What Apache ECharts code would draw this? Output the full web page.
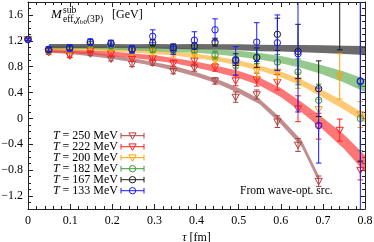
<!DOCTYPE html>
<html><head><meta charset="utf-8">
<script src="https://cdn.jsdelivr.net/npm/echarts@6/dist/echarts.min.js"></script>
<style>html,body{margin:0;padding:0;background:#fff}#c{width:374px;height:242px}</style>
</head><body><div id="c"></div>
<script>
// ---- data ----
const tau = [0, 0.049, 0.099, 0.148, 0.197, 0.247, 0.296, 0.345, 0.395, 0.444, 0.493, 0.543, 0.592, 0.641, 0.690, 0.740, 0.789];

const m250 = [1.22, 1.02, 0.97, 1.00, 0.92, 0.84, 0.86, 0.73, 0.78, 0.58, 0.33, 0.37, -0.05, -0.41, -0.97];
const e250 = [0.02, 0.03, 0.03, 0.03, 0.03, 0.04, 0.04, 0.04, 0.05, 0.05, 0.08, 0.07, 0.09, 0.10, 0.08];
const m222 = [1.22, 1.03, 0.975, 1.05, 1.00, 0.92, 0.93, 0.85, 0.89, 0.79, 0.585, 0.60, 0.56, 0.15, -0.12, -0.18, -0.80];
const e222 = [0.02, 0.03, 0.03, 0.03, 0.04, 0.04, 0.04, 0.05, 0.05, 0.06, 0.08, 0.10, 0.12, 0.20, 0.20, 0.17, 0.15];
const m200 = [1.22, 1.04, 1.04, 1.12, 1.08, 1.02, 1.02, 1.00, 0.99, 0.90, 0.78, 0.74, 0.72, 0.585, 0.14, 0.65, 0.06];
const e200 = [0.02, 0.03, 0.03, 0.03, 0.04, 0.04, 0.05, 0.05, 0.05, 0.06, 0.08, 0.10, 0.12, 0.12, 0.15, 0.35, 0.20];
const m182 = [1.22, 1.05, 1.07, 1.15, 1.12, 1.06, 1.07, 1.06, 1.06, 0.98, 0.86, 0.95, 0.87, 0.72, 0.28, null, 0.00];
const e182 = [0.02, 0.03, 0.03, 0.04, 0.04, 0.05, 0.05, 0.05, 0.05, 0.06, 0.08, 0.10, 0.12, 0.20, 0.25, null, 0.50];
const m167 = [1.22, 1.06, 1.09, 1.18, 1.16, 1.07, 1.17, 1.10, 1.12, 1.18, 0.91, 0.94, 1.30, 1.035, 0.46, 1.90, 0.58];
const e167 = [0.02, 0.03, 0.03, 0.04, 0.04, 0.04, 0.05, 0.05, 0.05, 0.06, 0.09, 0.15, 0.25, 0.42, 0.43, 0.84, 1.25];
const m133 = [1.22, 1.07, 1.09, 1.18, 1.16, 1.07, 1.27, 1.07, 1.21, 1.37, 0.89, 1.18, 1.17, 1.00, -0.11, null, 0.57];
const e133 = [0.02, 0.04, 0.05, 0.05, 0.05, 0.06, 0.10, 0.08, 0.13, 0.17, 0.22, 0.30, 0.43, 0.90, 0.58, null, 2.00];

// fit bands: centre and half-width
const bandTau = [0.05, 0.1, 0.15, 0.2, 0.25, 0.3, 0.35, 0.4, 0.45, 0.5, 0.55, 0.6, 0.65, 0.7, 0.75, 0.8];
const bandTau250 = [0.05, 0.1, 0.15, 0.2, 0.25, 0.3, 0.35, 0.4, 0.45, 0.5, 0.55, 0.6, 0.65, 0.69];
const c250 = [1.04, 1.02, 0.99, 0.95, 0.90, 0.84, 0.77, 0.68, 0.57, 0.43, 0.26, -0.04, -0.39, -0.93];
const w250 = [0.025, 0.025, 0.03, 0.03, 0.03, 0.03, 0.035, 0.035, 0.035, 0.04, 0.04, 0.045, 0.05, 0.05];
const c222 = [1.05, 1.04, 1.02, 1.00, 0.97, 0.935, 0.89, 0.83, 0.76, 0.68, 0.57, 0.40, 0.17, -0.08, -0.36, -0.70];
const w222 = [0.03, 0.03, 0.03, 0.035, 0.035, 0.04, 0.04, 0.045, 0.05, 0.055, 0.06, 0.07, 0.08, 0.09, 0.11, 0.13];
const c200 = [1.08, 1.075, 1.07, 1.06, 1.045, 1.025, 1.00, 0.965, 0.92, 0.86, 0.78, 0.68, 0.55, 0.38, 0.20, 0.00];
const w200 = [0.025, 0.025, 0.025, 0.025, 0.03, 0.03, 0.03, 0.035, 0.035, 0.04, 0.04, 0.045, 0.05, 0.055, 0.06, 0.065];
const c182 = [1.10, 1.10, 1.095, 1.09, 1.08, 1.07, 1.06, 1.05, 1.03, 1.00, 0.96, 0.91, 0.84, 0.75, 0.64, 0.51];
const w182 = [0.025, 0.025, 0.025, 0.03, 0.03, 0.03, 0.035, 0.035, 0.04, 0.045, 0.05, 0.055, 0.06, 0.07, 0.085, 0.10];
const c167 = [1.12, 1.12, 1.12, 1.12, 1.115, 1.115, 1.11, 1.11, 1.105, 1.10, 1.09, 1.085, 1.08, 1.07, 1.06, 1.05];
const w167 = [0.03, 0.03, 0.03, 0.03, 0.03, 0.035, 0.035, 0.04, 0.04, 0.045, 0.05, 0.05, 0.055, 0.06, 0.065, 0.07];

const xTicks = [0, 0.1, 0.2, 0.3, 0.4, 0.5, 0.6, 0.7, 0.8];
const yTicks = [-1.2, -0.8, -0.4, 0, 0.4, 0.8, 1.2, 1.6];
const yMinorTicks = [-1.4, -1.3, -1.1, -1.0, -0.9, -0.7, -0.6, -0.5, -0.3, -0.2, -0.1, 0.1, 0.2, 0.3, 0.5, 0.6, 0.7, 0.9, 1.0, 1.1, 1.3, 1.4, 1.5, 1.7, 1.8];
const legendLabels = ['250', '222', '200', '182', '167', '133'];

// ---- styles ----
const FONT = 'Liberation Serif';
const sets = [
  {m: m250, e: e250, color: '#b04040', shape: 'tri'},
  {m: m222, e: e222, color: '#ff2020', shape: 'tri'},
  {m: m200, e: e200, color: '#ffa000', shape: 'tri'},
  {m: m182, e: e182, color: '#3a9a3a', shape: 'circ'},
  {m: m167, e: e167, color: '#1a1a1a', shape: 'circ'},
  {m: m133, e: e133, color: '#1a1aff', shape: 'circ'}
];
const bands = [
  {x: bandTau250, c: c250, w: w250, fill: 'rgba(160,80,80,0.65)'},
  {x: bandTau, c: c222, w: w222, fill: 'rgba(255,60,60,0.7)'},
  {x: bandTau, c: c200, w: w200, fill: 'rgba(255,180,60,0.7)'},
  {x: bandTau, c: c182, w: w182, fill: 'rgba(90,170,80,0.65)'},
  {x: bandTau, c: c167, w: w167, fill: 'rgba(70,70,70,0.8)'}
];

function markerShape(shape, cx, cy, color) {
  if (shape === 'tri') {
    return {type: 'polygon', shape: {points: [[cx - 3.6, cy - 2.8], [cx + 3.6, cy - 2.8], [cx, cy + 3.6]]},
      style: {fill: 'rgba(255,255,255,0)', stroke: color, lineWidth: 1}};
  }
  return {type: 'circle', shape: {cx: cx, cy: cy, r: 3.2}, style: {fill: 'rgba(255,255,255,0)', stroke: color, lineWidth: 1}};
}

function errSeries(s) {
  const data = [];
  s.m.forEach((v, i) => { if (v !== null) data.push([tau[i], v, s.e[i]]); });
  return {
    type: 'custom', coordinateSystem: 'cartesian2d', silent: true, z: 5,
    data: data,
    renderItem: function (params, api) {
      const x = api.value(0), y = api.value(1), e = api.value(2);
      const p = api.coord([x, y]);
      const t = api.coord([x, y + e]);
      const b = api.coord([x, y - e]);
      const cw = 2.8;
      const cs = params.coordSys;
      return {
        type: 'group',
        clipPath: {type: 'rect', shape: {x: cs.x - 10, y: cs.y, width: cs.width + 20, height: cs.height}},
        children: [
          {type: 'line', shape: {x1: p[0], y1: t[1], x2: p[0], y2: b[1]}, style: {stroke: s.color, lineWidth: 1}},
          {type: 'line', shape: {x1: p[0] - cw, y1: t[1], x2: p[0] + cw, y2: t[1]}, style: {stroke: s.color, lineWidth: 1}},
          {type: 'line', shape: {x1: p[0] - cw, y1: b[1], x2: p[0] + cw, y2: b[1]}, style: {stroke: s.color, lineWidth: 1}},
          markerShape(s.shape, p[0], p[1], s.color)
        ]
      };
    }
  };
}

function bandSeries(bd) {
  return {
    type: 'custom', coordinateSystem: 'cartesian2d', silent: true, z: 2, clip: true,
    data: bd.x.map((x, i) => [x, bd.c[i] - bd.w[i], bd.c[i] + bd.w[i]]),
    renderItem: function (params, api) {
      if (params.dataIndex !== 0) return;
      const up = [], dn = [];
      for (let i = 0; i < bd.x.length; i++) {
        up.push(api.coord([bd.x[i], bd.c[i] + bd.w[i]]));
        dn.push(api.coord([bd.x[i], bd.c[i] - bd.w[i]]));
      }
      const cs = params.coordSys;
      return {type: 'polygon', shape: {points: up.concat(dn.reverse())}, style: {fill: bd.fill},
        clipPath: {type: 'rect', shape: {x: cs.x, y: cs.y, width: cs.width, height: cs.height}}};
    }
  };
}

const fmt = v => (Math.abs(v) < 1e-9 ? '0' : (Math.round(v * 10) / 10).toString()).replace('-', '\u2212');

function xAxisCfg(pos, labels) {
  return {
    type: 'value', position: pos, min: xTicks[0], max: xTicks[xTicks.length - 1], interval: 0.1,
    axisLine: {show: true, onZero: false, lineStyle: {color: '#222', width: 1}},
    axisTick: {show: true, inside: true, length: 5, lineStyle: {color: '#222'}},
    minorTick: {show: true, splitNumber: 5, length: 3, lineStyle: {color: '#222'}},
    splitLine: {show: false}, minorSplitLine: {show: false},
    axisLabel: {show: labels, fontFamily: FONT, fontSize: 12, color: '#000', margin: 6, formatter: fmt},
    name: labels ? '{i|τ} [fm]' : '', nameLocation: 'middle', nameGap: 22,
    nameTextStyle: {fontFamily: FONT, fontSize: 12, color: '#000', rich: {i: {fontFamily: FONT, fontStyle: 'italic', fontSize: 12}}}
  };
}
function yAxisCfg(pos, labels, major) {
  return {
    type: 'value', position: pos, min: -1.4, max: 1.8, interval: 0.1,
    axisLine: {show: major, onZero: false, lineStyle: {color: '#222', width: 1}},
    axisTick: {show: true, inside: true, length: major ? 5 : 3, lineStyle: {color: '#222'},
      customValues: major ? yTicks : yMinorTicks},
    splitLine: {show: false},
    axisLabel: {show: labels, fontFamily: FONT, fontSize: 12, color: '#000', margin: 5, formatter: fmt,
      customValues: yTicks}
  };
}

const graphics = [];
// title
graphics.push({type: 'text', x: 51, y: 15, style: {text: 'M', fontFamily: FONT, fontStyle: 'italic', fontSize: 13, fill: '#000', verticalAlign: 'middle'}});
graphics.push({type: 'text', x: 63, y: 10.5, style: {text: 'sub', fontFamily: FONT, fontSize: 9.5, fill: '#000', verticalAlign: 'middle'}});
graphics.push({type: 'text', x: 63, y: 19.5, style: {text: 'eff,{g|χ}{s|b0}(3P)', fontFamily: FONT, fontSize: 9.5, fill: '#000', verticalAlign: 'middle', lineHeight: 13,
  rich: {g: {fontFamily: FONT, fontStyle: 'italic', fontSize: 9.5, lineHeight: 13}, s: {fontFamily: FONT, fontSize: 7, verticalAlign: 'bottom', lineHeight: 13}}}});
graphics.push({type: 'text', x: 112, y: 15, style: {text: '[GeV]', fontFamily: FONT, fontSize: 12, fill: '#000', verticalAlign: 'middle'}});
// note
graphics.push({type: 'text', x: 240, y: 191, style: {text: 'From wave-opt. src.', fontFamily: FONT, fontSize: 11.5, fill: '#000', verticalAlign: 'middle'}});
// legend
legendLabels.forEach((lab, i) => {
  const y = 135.7 + i * 11;
  const s = sets[i];
  graphics.push({type: 'text', x: 118, y: y, style: {text: '{i|T} = ' + lab + ' MeV', fontFamily: FONT, fontSize: 12, fill: '#000',
      align: 'right', verticalAlign: 'middle',
      rich: {i: {fontFamily: FONT, fontStyle: 'italic', fontSize: 12}}}});
  graphics.push({type: 'group', children: [
    {type: 'line', shape: {x1: 121, y1: y, x2: 144, y2: y}, style: {stroke: s.color, lineWidth: 1}},
    {type: 'line', shape: {x1: 121, y1: y - 2.8, x2: 121, y2: y + 2.8}, style: {stroke: s.color, lineWidth: 1}},
    {type: 'line', shape: {x1: 144, y1: y - 2.8, x2: 144, y2: y + 2.8}, style: {stroke: s.color, lineWidth: 1}},
    markerShape(s.shape, 132.5, y, s.color)
  ]});
});

const series = bands.map(bandSeries).concat(sets.map(errSeries));

const chart = echarts.init(document.getElementById('c'), null, {renderer: 'canvas'});
chart.setOption({
  animation: false,
  backgroundColor: '#fff',
  grid: {left: 28, right: 9, top: 2, bottom: 33, containLabel: false, outerBoundsMode: 'none'},
  xAxis: [xAxisCfg('bottom', true), xAxisCfg('top', false)],
  yAxis: [yAxisCfg('left', true, true), yAxisCfg('right', false, true), yAxisCfg('left', false, false), yAxisCfg('right', false, false)],
  series: series,
  graphic: graphics
});
</script></body></html>
